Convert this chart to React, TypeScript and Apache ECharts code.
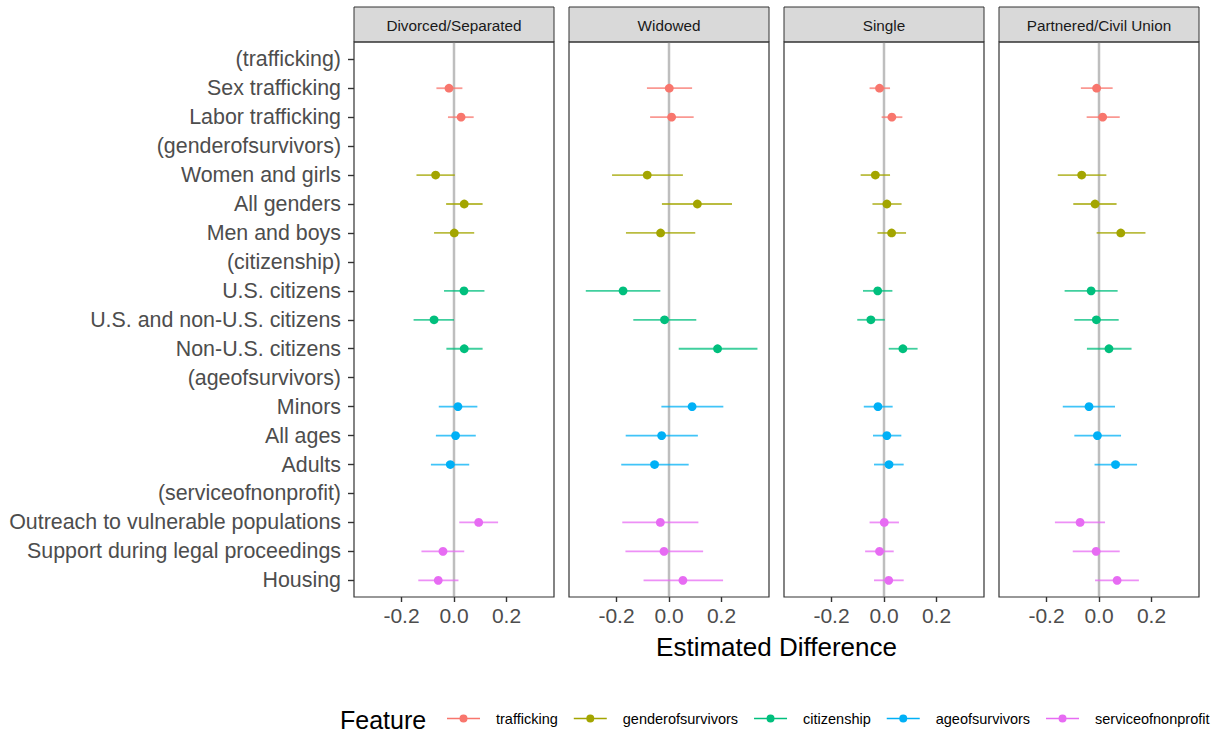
import React, { useEffect, useRef } from "react";
import * as echarts from "echarts";

const FONT = '"Liberation Sans", Arial, Helvetica, sans-serif';

const categories = [
  "(trafficking)",
  "Sex trafficking",
  "Labor trafficking",
  "(genderofsurvivors)",
  "Women and girls",
  "All genders",
  "Men and boys",
  "(citizenship)",
  "U.S. citizens",
  "U.S. and non-U.S. citizens",
  "Non-U.S. citizens",
  "(ageofsurvivors)",
  "Minors",
  "All ages",
  "Adults",
  "(serviceofnonprofit)",
  "Outreach to vulnerable populations",
  "Support during legal proceedings",
  "Housing",
];

const features = ["trafficking", "genderofsurvivors", "citizenship", "ageofsurvivors", "serviceofnonprofit"];
const featureColors = ["#F8766D", "#A3A500", "#00BF7D", "#00B0F6", "#E76BF3"];
const rowFeature = [0, 0, 0, 1, 1, 1, 1, 2, 2, 2, 2, 3, 3, 3, 3, 4, 4, 4, 4];

const panels = ["Divorced/Separated", "Widowed", "Single", "Partnered/Civil Union"];

const divorcedEst = [null, -0.019, 0.027, null, -0.070, 0.039, 0.001, null, 0.038, -0.076, 0.039, null, 0.015, 0.006, -0.014, null, 0.094, -0.042, -0.060];
const divorcedLo = [null, -0.067, -0.023, null, -0.143, -0.030, -0.076, null, -0.038, -0.154, -0.029, null, -0.058, -0.069, -0.088, null, 0.020, -0.124, -0.136];
const divorcedHi = [null, 0.032, 0.075, null, 0.003, 0.109, 0.077, null, 0.116, 0.000, 0.109, null, 0.089, 0.083, 0.058, null, 0.168, 0.039, 0.017];

const widowedEst = [null, 0.001, 0.010, null, -0.083, 0.108, -0.032, null, -0.175, -0.017, 0.185, null, 0.088, -0.028, -0.055, null, -0.033, -0.019, 0.053];
const widowedLo = [null, -0.084, -0.072, null, -0.217, -0.027, -0.164, null, -0.317, -0.136, 0.037, null, -0.029, -0.165, -0.182, null, -0.178, -0.166, -0.097];
const widowedHi = [null, 0.088, 0.094, null, 0.053, 0.240, 0.100, null, -0.033, 0.104, 0.337, null, 0.207, 0.110, 0.075, null, 0.112, 0.130, 0.206];

const singleEst = [null, -0.017, 0.030, null, -0.033, 0.011, 0.029, null, -0.024, -0.050, 0.072, null, -0.023, 0.011, 0.019, null, 0.001, -0.017, 0.018];
const singleLo = [null, -0.055, -0.009, null, -0.089, -0.044, -0.025, null, -0.080, -0.102, 0.018, null, -0.077, -0.042, -0.038, null, -0.055, -0.072, -0.038];
const singleHi = [null, 0.023, 0.070, null, 0.023, 0.067, 0.084, null, 0.032, 0.003, 0.128, null, 0.033, 0.066, 0.075, null, 0.057, 0.037, 0.075];

const partneredEst = [null, -0.009, 0.014, null, -0.066, -0.015, 0.083, null, -0.030, -0.010, 0.038, null, -0.038, -0.006, 0.063, null, -0.072, -0.011, 0.069];
const partneredLo = [null, -0.069, -0.047, null, -0.157, -0.098, -0.009, null, -0.131, -0.094, -0.046, null, -0.138, -0.094, -0.017, null, -0.168, -0.100, -0.015];
const partneredHi = [null, 0.052, 0.079, null, 0.028, 0.067, 0.177, null, 0.071, 0.075, 0.124, null, 0.061, 0.084, 0.145, null, 0.023, 0.079, 0.152];

const xTicks = [-0.2, 0, 0.2];

const panelData = [
  { est: divorcedEst, lo: divorcedLo, hi: divorcedHi },
  { est: widowedEst, lo: widowedLo, hi: widowedHi },
  { est: singleEst, lo: singleLo, hi: singleHi },
  { est: partneredEst, lo: partneredLo, hi: partneredHi },
];

const PANEL_LEFT = [354, 569, 784, 999];
const PANEL_W = 200;
const PANEL_TOP = 42;
const PANEL_BOTTOM = 597;
const GRID_TOP = 44.8;
const GRID_H = 550;

const legendIcon =
  "path://M0,4.2L33,4.2L33,5.8L0,5.8Z M12.5,5A4,4 0 1 1 20.5,5A4,4 0 1 1 12.5,5Z";

export default function App() {
  const ref = useRef<HTMLDivElement>(null);

  useEffect(() => {
    if (!ref.current) return;
    const chart = echarts.init(ref.current, null, { renderer: "svg" });

    const grids = PANEL_LEFT.map((l) => ({ left: l, top: GRID_TOP, width: PANEL_W, height: GRID_H, show: false }));

    const xAxes = PANEL_LEFT.map((_, i) => ({
      type: "value",
      gridIndex: i,
      min: -0.381,
      max: 0.381,
      offset: PANEL_BOTTOM - (GRID_TOP + GRID_H),
      splitLine: { show: false },
      axisLine: { show: false, onZero: false },
      axisTick: { show: true, length: 5, customValues: xTicks, lineStyle: { color: "#333333", width: 1.4 } },
      axisLabel: {
        show: true,
        customValues: xTicks,
        formatter: (v: number) => v.toFixed(1),
        color: "#4D4D4D",
        fontSize: 21,
        fontFamily: FONT,
        margin: 8,
      },
    }));

    const yAxes = PANEL_LEFT.map((_, i) => ({
      type: "category",
      gridIndex: i,
      inverse: true,
      data: categories,
      axisLine: { show: false, onZero: false },
      splitLine: { show: false },
      axisTick: { show: i === 0, alignWithLabel: true, length: 6, lineStyle: { color: "#333333", width: 1.4 } },
      axisLabel: { show: i === 0, color: "#4D4D4D", fontSize: 21.4, fontFamily: FONT, margin: 13 },
    }));

    const series: any[] = [];
    PANEL_LEFT.forEach((_, p) => {
      series.push({
        type: "custom",
        name: "zero",
        xAxisIndex: p,
        yAxisIndex: p,
        silent: true,
        data: [[0, 0]],
        encode: { x: 0, y: 1 },
        renderItem: (params: any, api: any) => {
          const x = api.coord([0, 0])[0];
          return {
            type: "line",
            shape: { x1: x, y1: PANEL_TOP + 0.5, x2: x, y2: PANEL_BOTTOM - 0.5 },
            style: { stroke: "#BEBEBE", lineWidth: 2.5 },
          };
        },
      });
      const d = panelData[p];
      features.forEach((f, fi) => {
        const rows: number[][] = [];
        categories.forEach((_, r) => {
          if (rowFeature[r] === fi && d.est[r] !== null) {
            rows.push([d.est[r] as number, d.lo[r] as number, d.hi[r] as number, r]);
          }
        });
        const color = featureColors[fi];
        series.push({
          type: "custom",
          name: f,
          xAxisIndex: p,
          yAxisIndex: p,
          itemStyle: { color },
          encode: { x: [0, 1, 2], y: 3 },
          data: rows,
          renderItem: (params: any, api: any) => {
            const yv = api.value(3);
            const lo = api.coord([api.value(1), yv]);
            const hi = api.coord([api.value(2), yv]);
            const c = api.coord([api.value(0), yv]);
            return {
              type: "group",
              children: [
                {
                  type: "line",
                  shape: { x1: lo[0], y1: lo[1], x2: hi[0], y2: hi[1] },
                  style: { stroke: color, lineWidth: 1.8, opacity: 0.75 },
                },
                { type: "circle", shape: { cx: c[0], cy: c[1], r: 4.4 }, style: { fill: color } },
              ],
            };
          },
        });
      });
    });

    const graphics: any[] = [];
    PANEL_LEFT.forEach((l, i) => {
      graphics.push({
        type: "rect",
        shape: { x: l, y: 7, width: PANEL_W, height: PANEL_TOP - 7 },
        style: { fill: "#D9D9D9", stroke: "#333333", lineWidth: 1 },
        silent: true,
      });
      graphics.push({
        type: "text",
        x: l + PANEL_W / 2,
        y: (7 + PANEL_TOP) / 2 + 0.5,
        style: {
          text: panels[i],
          fill: "#1A1A1A",
          fontSize: 15.3,
          fontFamily: FONT,
          align: "center",
          verticalAlign: "middle",
        },
        silent: true,
      });
      graphics.push({
        type: "rect",
        shape: { x: l, y: PANEL_TOP, width: PANEL_W, height: PANEL_BOTTOM - PANEL_TOP },
        style: { fill: "none", stroke: "#333333", lineWidth: 1.2 },
        silent: true,
        z: 10,
      });
    });
    graphics.push({
      type: "text",
      x: (PANEL_LEFT[0] + PANEL_LEFT[3] + PANEL_W) / 2,
      y: 647,
      style: {
        text: "Estimated Difference",
        fill: "#000000",
        fontSize: 26,
        fontFamily: FONT,
        align: "center",
        verticalAlign: "middle",
      },
      silent: true,
    });
    graphics.push({
      type: "text",
      x: 340,
      y: 720,
      style: {
        text: "Feature",
        fill: "#000000",
        fontSize: 25,
        fontFamily: FONT,
        align: "left",
        verticalAlign: "middle",
      },
      silent: true,
    });

    chart.setOption({
      animation: false,
      backgroundColor: "#FFFFFF",
      grid: grids,
      xAxis: xAxes,
      yAxis: yAxes,
      legend: {
        left: 447,
        top: 711,
        width: 778,
        padding: 0,
        orient: "horizontal",
        itemWidth: 33,
        itemHeight: 8,
        itemGap: 16,
        selectedMode: false,
        data: features.map((f) => ({ name: f, icon: legendIcon })),
        textStyle: { color: "#000000", fontSize: 14.5, fontFamily: FONT, padding: [0, 0, 0, 11] },
      },
      graphic: graphics,
      series,
    });

    return () => chart.dispose();
  }, []);

  return <div ref={ref} style={{ position: "absolute", left: 0, top: 0, width: 1225, height: 734 }} />;
}
